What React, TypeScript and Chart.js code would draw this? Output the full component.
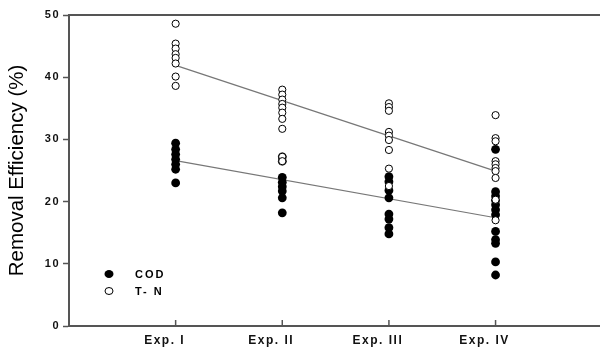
import React, { useEffect, useRef } from "react";
import { Chart, registerables } from "chart.js";

Chart.register(...registerables);

const CATEGORIES = ["Exp. I", "Exp. II", "Exp. III", "Exp. IV"];
const Y_TICKS = [0, 10, 20, 30, 40, 50];

const COD_I = [29.4, 28.4, 27.6, 26.8, 26.0, 25.2, 23.0];
const COD_II = [27.2, 26.5, 23.9, 23.1, 22.4, 21.7, 20.6, 18.2];
const COD_III = [24.0, 23.2, 21.8, 20.6, 18.0, 17.2, 15.8, 14.8];
const COD_IV = [28.4, 21.6, 20.9, 20.2, 19.5, 18.7, 17.9, 15.2, 13.9, 13.3, 10.3, 8.2];

const TN_I = [48.6, 45.4, 44.6, 43.7, 43.1, 42.2, 40.1, 38.6];
const TN_II = [38.0, 37.2, 36.4, 35.7, 35.1, 34.3, 33.3, 31.7, 27.2, 26.5];
const TN_III = [35.8, 35.2, 34.6, 31.2, 30.6, 29.9, 28.3, 25.3, 22.5];
const TN_IV = [33.9, 30.2, 29.7, 26.5, 26.0, 25.4, 24.9, 23.8, 20.3, 17.0];

// regression line end values at Exp. I and Exp. IV
const COD_FIT = [26.6, 17.4];
const TN_FIT = [41.9, 24.9];

const COD_ALL = [COD_I, COD_II, COD_III, COD_IV];
const TN_ALL = [TN_I, TN_II, TN_III, TN_IV];

const FONT = '"Liberation Sans", Arial, sans-serif';
const AXIS_COLOR = "#555";

function toPoints(groups: number[][]) {
  const pts: { x: number; y: number }[] = [];
  groups.forEach((g, i) => g.forEach((y) => pts.push({ x: i + 1, y })));
  return pts;
}

const decorPlugin = {
  id: "decor",
  beforeDraw(chart: any) {
    chart.ctx.letterSpacing = "1.5px";
  },
  afterDraw(chart: any) {
    const ctx = chart.ctx;
    const ca = chart.chartArea;
    const xs = chart.scales.x;
    ctx.save();
    ctx.letterSpacing = "0px";
    // inside tick marks on x axis
    ctx.strokeStyle = AXIS_COLOR;
    ctx.lineWidth = 1.5;
    xs.ticks.forEach((t: any) => {
      const px = xs.getPixelForValue(t.value);
      ctx.beginPath();
      ctx.moveTo(px, ca.bottom);
      ctx.lineTo(px, ca.bottom - 6);
      ctx.stroke();
    });
    // y axis title
    ctx.fillStyle = "#000";
    ctx.font = `20.5px ${FONT}`;
    ctx.textAlign = "center";
    ctx.textBaseline = "middle";
    ctx.translate(17, (ca.top + ca.bottom) / 2);
    ctx.rotate(-Math.PI / 2);
    ctx.fillText("Removal Efficiency (%)", 0, 0);
    ctx.restore();

    // legend
    ctx.save();
    ctx.letterSpacing = "2px";
    const lx = ca.left + 40;
    const ly1 = ca.bottom - 52;
    const ly2 = ca.bottom - 35;
    const dsCod = chart.data.datasets[1];
    const dsTn = chart.data.datasets[0];
    ctx.fillStyle = "#000";
    ctx.beginPath();
    ctx.ellipse(lx, ly1, 4.5, 4, 0, 0, Math.PI * 2);
    ctx.fill();
    ctx.beginPath();
    ctx.ellipse(lx, ly2, 4, 3.5, 0, 0, Math.PI * 2);
    ctx.fillStyle = "#fff";
    ctx.fill();
    ctx.strokeStyle = "#000";
    ctx.lineWidth = 1;
    ctx.stroke();
    ctx.fillStyle = "#000";
    ctx.font = `bold 11px ${FONT}`;
    ctx.textAlign = "left";
    ctx.textBaseline = "middle";
    ctx.fillText(dsCod.label, lx + 26, ly1 + 0.5);
    ctx.fillText(dsTn.label, lx + 26, ly2 + 0.5);
    ctx.restore();
  },
};

export default function App() {
  const ref = useRef<HTMLCanvasElement | null>(null);

  useEffect(() => {
    if (!ref.current) return;
    const chart = new Chart(ref.current, {
      type: "scatter",
      data: {
        datasets: [
          {
            label: "T- N",
            data: toPoints(TN_ALL),
            pointRadius: 3.6,
            pointBackgroundColor: "#fff",
            pointBorderColor: "#000",
            pointBorderWidth: 1,
            order: 0,
          } as any,
          {
            label: "COD",
            data: toPoints(COD_ALL),
            pointRadius: 4.4,
            pointBackgroundColor: "#000",
            pointBorderColor: "#000",
            pointBorderWidth: 0,
            order: 1,
          },
          {
            label: "T-N fit",
            type: "line",
            data: [
              { x: 1, y: TN_FIT[0] },
              { x: 4, y: TN_FIT[1] },
            ],
            borderColor: "#777",
            borderWidth: 1.2,
            pointRadius: 0,
            showLine: true,
            order: 2,
          } as any,
          {
            label: "COD fit",
            type: "line",
            data: [
              { x: 1, y: COD_FIT[0] },
              { x: 4, y: COD_FIT[1] },
            ],
            borderColor: "#777",
            borderWidth: 1.2,
            pointRadius: 0,
            showLine: true,
            order: 2,
          } as any,
        ],
      },
      options: {
        animation: false,
        responsive: false,
        maintainAspectRatio: false,
        layout: { padding: 0 },
        plugins: {
          legend: { display: false },
          tooltip: { enabled: false },
        },
        scales: {
          x: {
            type: "linear",
            position: "bottom",
            min: 0,
            max: 4.97,
            afterBuildTicks: (scale: any) => {
              scale.ticks = CATEGORIES.map((_, i) => ({ value: i + 1 }));
            },
            afterFit: (scale: any) => {
              scale.height = 24;
            },
            grid: { drawOnChartArea: false, drawTicks: false },
            border: { display: true, color: AXIS_COLOR, width: 2 },
            ticks: {
              autoSkip: false,
              maxRotation: 0,
              padding: 7,
              labelOffset: -11,
              color: "#111",
              font: { family: FONT, size: 12, weight: "bold" },
              callback: (v: any) => CATEGORIES[Math.round(Number(v)) - 1] ?? "",
            },
          },
          xTop: {
            type: "linear",
            position: "top",
            axis: "x",
            min: 0,
            max: 1,
            afterFit: (scale: any) => {
              scale.height = 15;
            },
            grid: { drawOnChartArea: false, drawTicks: false },
            border: { display: true, color: AXIS_COLOR, width: 2 },
            ticks: { display: false },
          } as any,
          y: {
            min: 0,
            max: 50,
            afterBuildTicks: (scale: any) => {
              scale.ticks = Y_TICKS.map((v) => ({ value: v }));
            },
            afterFit: (scale: any) => {
              scale.width = 69;
            },
            grid: {
              drawOnChartArea: false,
              drawTicks: true,
              tickLength: 6,
              tickWidth: 1.5,
              tickColor: AXIS_COLOR,
            },
            border: { display: true, color: AXIS_COLOR, width: 2 },
            ticks: {
              padding: 3,
              color: "#111",
              font: { family: FONT, size: 11, weight: "bold" },
            },
          },
        },
      },
      plugins: [decorPlugin],
    });
    return () => chart.destroy();
  }, []);

  return (
    <div style={{ position: "fixed", left: 0, top: 0, width: 604, height: 350, background: "#fff" }}>
      <canvas ref={ref} width={604} height={350} style={{ display: "block" }} />
    </div>
  );
}
